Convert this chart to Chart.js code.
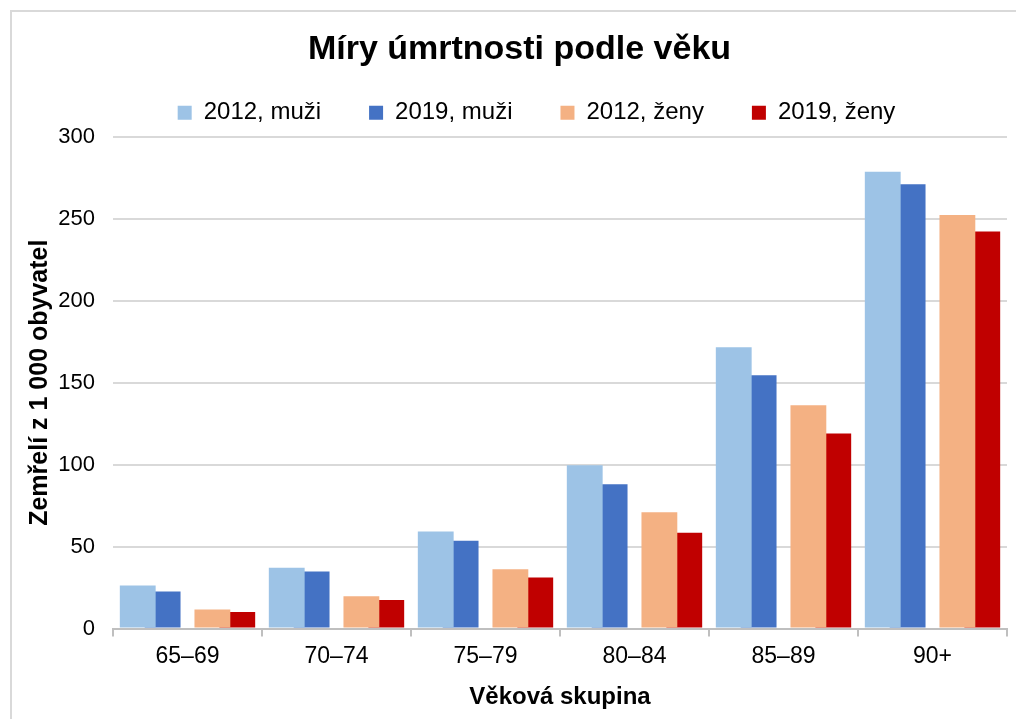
<!DOCTYPE html>
<html>
<head>
<meta charset="utf-8">
<script src="https://cdn.jsdelivr.net/npm/chart.js@4/dist/chart.umd.min.js"></script>
<style>
  html, body { margin: 0; padding: 0; background: #fff; overflow: hidden; }
  #wrap { position: relative; width: 1016px; height: 719px; }
  #frame {
    position: absolute; left: 10px; top: 10px; width: 1100px; height: 800px;
    border: 2px solid #d9d9d9; pointer-events: none;
  }
</style>
</head>
<body>
<div id="wrap">
  <canvas id="chart" width="1016" height="719"></canvas>
  <div id="frame"></div>
</div>
<script>
// Age groups and death rates per 1 000 inhabitants
const ageGroups = ['65–69', '70–74', '75–79', '80–84', '85–89', '90+'];
const men2012 = [26.3, 37.1, 59.3, 99.6, 171.7, 278.7];
const men2019 = [22.6, 34.8, 53.6, 88.0, 154.5, 271.0];
const women2012 = [11.6, 19.7, 36.2, 70.9, 136.2, 252.3];
const women2019 = [10.2, 17.5, 31.2, 58.5, 119.0, 242.3];
const yTicks = [0, 50, 100, 150, 200, 250, 300];

const font = 'Liberation Sans, Arial, sans-serif';

// Bars overlap like in Excel; an empty series keeps the gap between men and women
const barOpts = { barPercentage: 1.44, categoryPercentage: 0.835, borderWidth: 0 };

// legend spacing is wide, but its block should stay short;
// title and legend sit a bit right of the canvas centre
const blockShift = {
  id: 'blockShift',
  beforeInit(chart) {
    const fit = chart.legend.fit;
    chart.legend.fit = function () {
      fit.call(this);
      this.height = 84;
    };
  },
  afterLayout(chart) {
    chart.legend.left += 26;
    chart.legend.right += 26;
    chart.titleBlock.left += 9;
    chart.titleBlock.right += 9;
  }
};

new Chart(document.getElementById('chart'), {
  type: 'bar',
  data: {
    labels: ageGroups,
    datasets: [
      { label: '2012, muži', data: men2012, backgroundColor: '#9DC3E6', ...barOpts },
      { label: '2019, muži', data: men2019, backgroundColor: '#4472C4', ...barOpts },
      { label: '', data: [], backgroundColor: 'rgba(0,0,0,0)', ...barOpts },
      { label: '2012, ženy', data: women2012, backgroundColor: '#F4B183', ...barOpts },
      { label: '2019, ženy', data: women2019, backgroundColor: '#C00000', ...barOpts }
    ]
  },
  plugins: [blockShift],
  options: {
    responsive: false,
    animation: false,
    layout: { padding: { left: 14, right: 9, top: 0, bottom: 7 } },
    plugins: {
      title: {
        display: true,
        text: 'Míry úmrtnosti podle věku',
        color: '#000',
        font: { family: font, size: 34, weight: 'bold' },
        padding: { top: 29, bottom: -17 }
      },
      legend: {
        position: 'top',
        labels: {
          filter: item => item.text !== '',
          color: '#000',
          font: { family: font, size: 24 },
          boxWidth: 14,
          boxHeight: 14,
          padding: 48
        }
      },
      tooltip: { enabled: false }
    },
    scales: {
      x: {
        grid: {
          display: true, drawOnChartArea: false, drawTicks: true,
          offset: true, tickLength: 8, color: '#bfbfbf', lineWidth: 2
        },
        border: { display: true, color: '#bfbfbf', width: 2 },
        ticks: { color: '#000', font: { family: font, size: 23 }, padding: 6 },
        title: {
          display: true, text: 'Věková skupina', color: '#000',
          font: { family: font, size: 24, weight: 'bold' }, padding: { top: 7, bottom: 0 }
        }
      },
      y: {
        min: 0,
        max: 300,
        afterBuildTicks: scale => { scale.ticks = yTicks.map(v => ({ value: v })); },
        afterFit: scale => { scale.width = 99; },
        grid: { color: '#d9d9d9', lineWidth: 2, drawTicks: false },
        border: { display: false },
        ticks: { color: '#000', font: { family: font, size: 22 }, padding: 18 },
        title: {
          display: true, text: 'Zemřelí z 1 000 obyvatel', color: '#000',
          font: { family: font, size: 25, weight: 'bold' }, padding: { top: 11, bottom: 0 }
        }
      }
    }
  }
});
</script>
</body>
</html>
